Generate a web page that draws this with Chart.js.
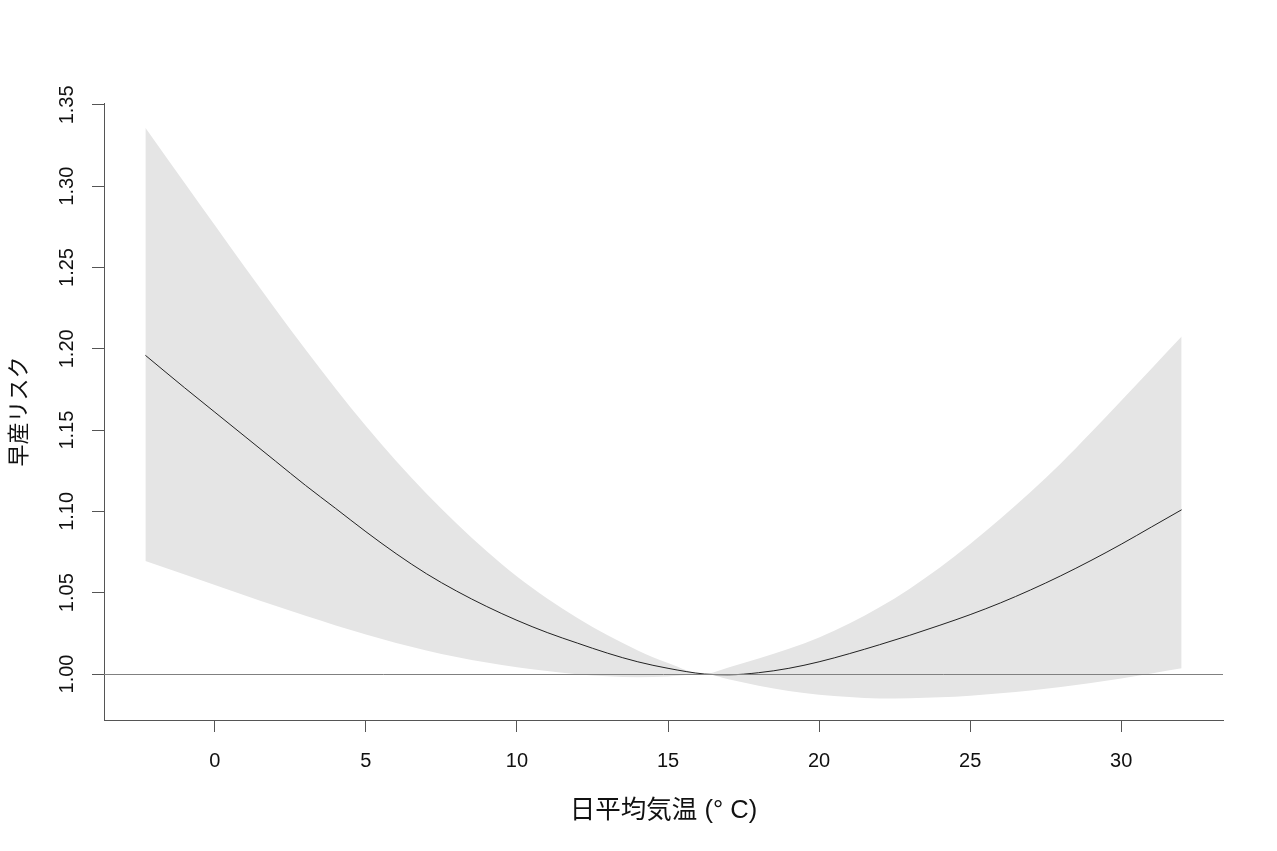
<!DOCTYPE html>
<html lang="ja">
<head>
<meta charset="utf-8">
<title>早産リスク</title>
<script src="https://cdn.jsdelivr.net/npm/chart.js@4.4.1/dist/chart.umd.min.js"></script>
<style>
  html, body { margin: 0; padding: 0; background: #fff; }
  #wrap { width: 1277px; height: 851px; }
</style>
</head>
<body>
<div id="wrap"><canvas id="chart" width="1277" height="851"></canvas></div>
<script>
// temperature (°C) where the curve was read
const temps = [-2.3, -1, 0, 1, 2, 3, 4, 5, 6, 7, 8, 9, 10, 11, 12, 13, 14, 15, 16.2,
               17, 18, 19, 20, 21, 22, 23, 24, 25, 26, 27, 28, 29, 30, 31, 32];
// relative risk and its confidence band
const risk  = [1.196, 1.176, 1.161, 1.146, 1.131, 1.116, 1.1018, 1.0875, 1.074, 1.0617, 1.051, 1.0415, 1.033, 1.0255, 1.019, 1.0128, 1.0075, 1.0035, 1.000,
               0.9995, 1.0008, 1.0035, 1.0075, 1.0125, 1.018, 1.0238, 1.030, 1.0365, 1.0437, 1.0517, 1.0604, 1.0698, 1.0798, 1.0904, 1.101];
const upper = [1.336, 1.302, 1.276, 1.250, 1.2245, 1.1995, 1.1755, 1.1525, 1.131, 1.111, 1.0925, 1.0755, 1.060, 1.0465, 1.0345, 1.0238, 1.0145, 1.0068, 1.000,
               1.004, 1.0095, 1.0155, 1.0225, 1.031, 1.041, 1.0525, 1.0655, 1.080, 1.0955, 1.112, 1.1295, 1.1485, 1.168, 1.1877, 1.2075];
const lower = [1.0695, 1.0612, 1.0548, 1.0483, 1.0420, 1.0358, 1.0299, 1.0243, 1.0191, 1.0145, 1.0105, 1.0071, 1.0042, 1.0018, 0.9999, 0.9986, 0.9980, 0.9985, 1.000,
               0.9968, 0.9928, 0.9896, 0.9873, 0.9858, 0.9850, 0.9851, 0.9857, 0.9867, 0.9881, 0.9899, 0.9920, 0.9945, 0.9973, 1.0003, 1.0035];

const xTicks = [0, 5, 10, 15, 20, 25, 30];
const yTicks = [1.00, 1.05, 1.10, 1.15, 1.20, 1.25, 1.30, 1.35];
const refValue = 1.0;

const xTitle = '日平均気温 (° C)';
const yTitle = '早産リスク';

const fontFamily = "'Liberation Sans', Arial, 'Noto Sans CJK JP', sans-serif";
const axisColor = '#555';

const pts = arr => temps.map((t, i) => ({ x: t, y: arr[i] }));

// horizontal reference line at RR = 1
const refLine = {
    id: 'refLine',
    afterDatasetsDraw(chart) {
        const { ctx, chartArea, scales } = chart;
        const y = Math.round(scales.y.getPixelForValue(refValue)) + 0.5;
        ctx.save();
        ctx.strokeStyle = '#808080';
        ctx.lineWidth = 1;
        ctx.beginPath();
        ctx.moveTo(chartArea.left, y);
        ctx.lineTo(chartArea.right, y);
        ctx.stroke();
        ctx.restore();
    }
};

new Chart(document.getElementById('chart'), {
    type: 'line',
    data: {
        datasets: [
            {
                data: pts(upper),
                borderWidth: 0,
                pointRadius: 0,
                backgroundColor: '#e5e5e5',
                fill: '+1',
                order: 2
            },
            {
                data: pts(lower),
                borderWidth: 0,
                pointRadius: 0,
                fill: false,
                order: 2
            },
            {
                data: pts(risk),
                borderColor: '#222',
                borderWidth: 1,
                pointRadius: 0,
                fill: false,
                order: 1
            }
        ]
    },
    options: {
        responsive: false,
        animation: false,
        cubicInterpolationMode: 'monotone',
        layout: { padding: { left: 0, right: 54, top: 103, bottom: 0 } },
        plugins: {
            legend: { display: false },
            tooltip: { enabled: false }
        },
        scales: {
            x: {
                type: 'linear',
                min: -3.67,
                max: 33.37,
                afterBuildTicks: s => { s.ticks = xTicks.map(v => ({ value: v })); },
                afterFit: s => { s.height = 131; },
                border: { display: true, color: axisColor, width: 1 },
                grid: { drawOnChartArea: false, drawTicks: true, tickLength: 12, color: axisColor },
                ticks: {
                    color: '#111',
                    padding: 17,
                    maxRotation: 0,
                    font: { family: fontFamily, size: 20 }
                },
                title: {
                    display: true,
                    text: xTitle,
                    color: '#111',
                    padding: { top: 0, bottom: 25 },
                    font: { family: fontFamily, size: 25.5 }
                }
            },
            y: {
                type: 'linear',
                min: 0.97171,
                max: 1.35117,
                afterBuildTicks: s => { s.ticks = yTicks.map(v => ({ value: v })); },
                afterFit: s => { s.width = 104; },
                border: { display: true, color: axisColor, width: 1 },
                grid: { drawOnChartArea: false, drawTicks: true, tickLength: 12, color: axisColor },
                ticks: {
                    color: '#111',
                    padding: 5,
                    minRotation: 90,
                    maxRotation: 90,
                    crossAlign: 'center',
                    font: { family: fontFamily, size: 20 },
                    callback: v => v.toFixed(2)
                },
                title: {
                    display: true,
                    text: yTitle,
                    color: '#111',
                    padding: { top: 7, bottom: 0 },
                    font: { family: fontFamily, size: 22 }
                }
            }
        }
    },
    plugins: [refLine]
});
</script>
</body>
</html>
